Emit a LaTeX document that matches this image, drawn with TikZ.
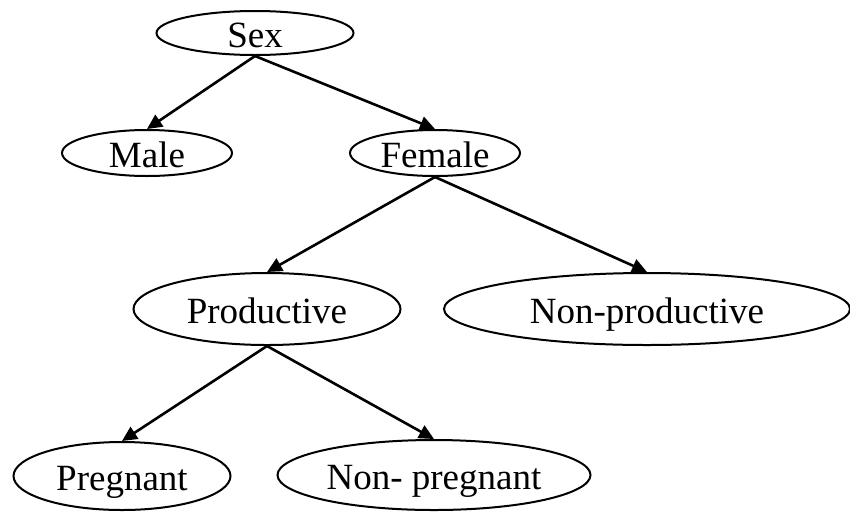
\documentclass[tikz,border=0pt]{standalone}
\usepackage{fontspec}
\setmainfont{Liberation Serif}
\usetikzlibrary{shapes.geometric,arrows.meta}

\begin{document}
\begin{tikzpicture}[x = 1pt, y = -1pt,
    blob/.style = {draw, ellipse, line width = 2pt, inner sep = 0pt, text height = 29pt, text depth = 0pt},
    link/.style = {-{Triangle[length = 15pt, width = 14pt]}, line width = 2.6pt}]
      \useasboundingbox (0, 0) rectangle (850, 512);
      \tikzset{every node/.append style = {font = \fontsize{37}{40}\selectfont}}

      \node (sex) [blob, minimum height = 44pt, minimum width = 197pt] at (255, 33) {Sex};
      \node (male) [blob, minimum height = 46pt, minimum width = 170pt] at (147, 153) {Male};
      \node (female) [blob, minimum height = 46pt, minimum width = 170pt] at (435, 153) {Female};
      \node (productive) [blob, minimum height = 72pt, minimum width = 267pt] at (267, 309) {Productive};
      \node (non_productive) [blob, minimum height = 72pt, minimum width = 406pt] at (647, 309) {Non-productive};
      \node (pregnant) [blob, minimum height = 68pt, minimum width = 217pt] at (122, 476) {Pregnant};
      \node (non_pregnant) [blob, minimum height = 70pt, minimum width = 313pt] at (434, 475) {Non- pregnant};

      \draw [link] (sex.south) -- (male.north);
      \draw [link] (sex.south) -- (female.north);
      \draw [link] (female.south) -- (productive.north);
      \draw [link] (female.south) -- (non_productive.north);
      \draw [link] (productive.south) -- (pregnant.north);
      \draw [link] (productive.south) -- (non_pregnant.north);
    \end{tikzpicture}
\end{document}
